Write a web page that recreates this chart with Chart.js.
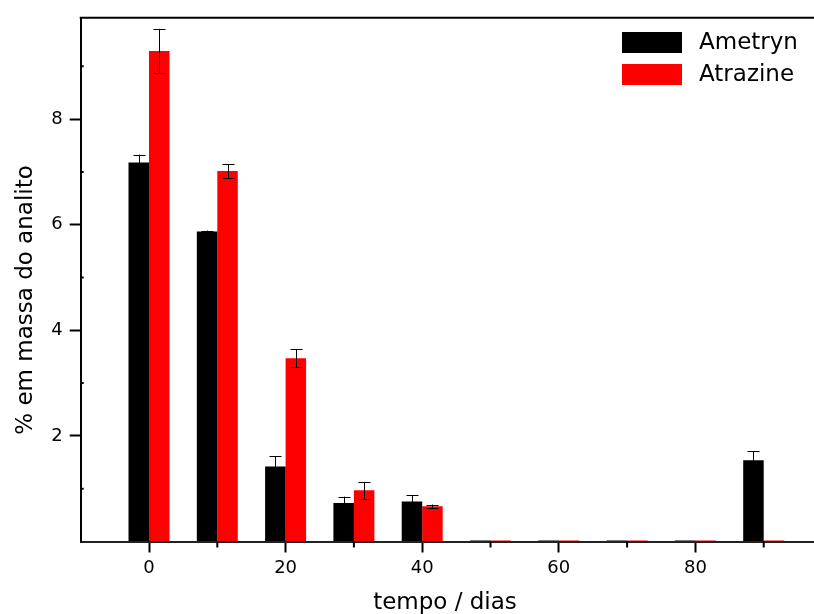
<!DOCTYPE html>
<html>
<head>
<meta charset="utf-8">
<script src="https://cdn.jsdelivr.net/npm/chart.js@4/dist/chart.umd.min.js"></script>
<style>
html, body { margin: 0; padding: 0; background: #fff; overflow: hidden; }
#wrap { width: 814px; height: 614px; overflow: hidden; }
canvas { display: block; }
</style>
</head>
<body>
<div id="wrap"><canvas id="massChart" width="837" height="614"></canvas></div>
<script>
'use strict';

// tempo (dias) e % em massa de cada analito, com desvios
var times        = [0, 10, 20, 30, 40, 50, 60, 70, 80, 90];
var ametryn      = [7.18, 5.87, 1.42, 0.73, 0.76, 0, 0, 0, 0, 1.54];
var ametrynErr   = [0.15, 0.02, 0.20, 0.12, 0.12, 0, 0, 0, 0, 0.17];
var atrazine     = [9.29, 7.02, 3.47, 0.97, 0.67, 0, 0, 0, 0, 0];
var atrazineErr  = [0.42, 0.13, 0.17, 0.16, 0.03, 0, 0, 0, 0, 0];
var xTickLabels  = [0, 20, 40, 60, 80];
var yTickLabels  = [2, 4, 6, 8];

var FONT = 'DejaVu Sans';
Chart.defaults.font.family = FONT;
Chart.defaults.color = '#000';

function points(values) {
    return times.map(function (t, i) { return { x: t, y: values[i] }; });
}

var extras = {
    id: 'extras',
    afterDatasetsDraw: function (chart) {
        // barras de erro
        var ctx = chart.ctx;
        var yScale = chart.scales.y;
        ctx.save();
        ctx.strokeStyle = '#000';
        ctx.lineWidth = 1;
        chart.data.datasets.forEach(function (ds, i) {
            var meta = chart.getDatasetMeta(i);
            meta.data.forEach(function (bar, j) {
                var e = ds.errors[j];
                if (!e) return;
                var v = ds.data[j].y;
                var top = yScale.getPixelForValue(v + e);
                var bot = yScale.getPixelForValue(v - e);
                var x = Math.round(bar.x) + 0.5;
                ctx.beginPath();
                ctx.moveTo(x, top);
                ctx.lineTo(x, bot);
                ctx.moveTo(x - 6, Math.round(top) + 0.5);
                ctx.lineTo(x + 6, Math.round(top) + 0.5);
                ctx.moveTo(x - 6, Math.round(bot) + 0.5);
                ctx.lineTo(x + 6, Math.round(bot) + 0.5);
                ctx.stroke();
            });
        });
        ctx.restore();
    },
    afterDraw: function (chart) {
        var ctx = chart.ctx;
        var area = chart.chartArea;
        var xScale = chart.scales.x;
        var yScale = chart.scales.y;
        ctx.save();

        // linha superior do quadro
        ctx.strokeStyle = '#000';
        ctx.lineWidth = 2;
        ctx.beginPath();
        ctx.moveTo(area.left - 1, area.top);
        ctx.lineTo(area.right, area.top);
        ctx.stroke();

        // ticks menores
        ctx.beginPath();
        [10, 30, 50, 70, 90].forEach(function (v) {
            var px = xScale.getPixelForValue(v);
            ctx.moveTo(px, area.bottom);
            ctx.lineTo(px, area.bottom + 6);
        });
        [1, 3, 5, 7, 9].forEach(function (v) {
            var py = yScale.getPixelForValue(v);
            ctx.moveTo(area.left, py);
            ctx.lineTo(area.left + 3, py);
        });
        ctx.stroke();

        // títulos dos eixos
        ctx.fillStyle = '#000';
        ctx.font = '23px "' + FONT + '"';
        ctx.textAlign = 'center';
        ctx.textBaseline = 'alphabetic';
        ctx.fillText('tempo / dias', 445, 609);
        ctx.save();
        ctx.translate(32, 300);
        ctx.rotate(-Math.PI / 2);
        ctx.fillText('% em massa do analito', 0, 0);
        ctx.restore();

        // legenda
        ctx.textAlign = 'left';
        ctx.textBaseline = 'middle';
        chart.data.datasets.forEach(function (ds, i) {
            var y0 = 32 + i * 32;
            ctx.fillStyle = ds.backgroundColor;
            ctx.fillRect(622, y0, 60, 21);
            ctx.fillStyle = '#000';
            ctx.fillText(ds.label, 699, y0 + 11);
        });
        ctx.restore();
    }
};

var massChart = new Chart(document.getElementById('massChart'), {
    type: 'bar',
    data: {
        datasets: [
            {
                label: 'Ametryn',
                data: points(ametryn),
                errors: ametrynErr,
                backgroundColor: '#000000',
                borderWidth: 0,
                minBarLength: 1
            },
            {
                label: 'Atrazine',
                data: points(atrazine),
                errors: atrazineErr,
                backgroundColor: '#ff0000',
                borderWidth: 0,
                minBarLength: 1
            }
        ]
    },
    options: {
        responsive: false,
        animation: false,
        devicePixelRatio: 1,
        categoryPercentage: 0.6,
        barPercentage: 1,
        layout: { padding: { top: 14, right: 1.25, left: 0, bottom: 0 } },
        plugins: {
            legend: { display: false },
            tooltip: { enabled: false }
        },
        scales: {
            x: {
                type: 'linear',
                min: -10,
                max: 100,
                offset: false,
                ticks: {
                    stepSize: 10,
                    autoSkip: false,
                    maxRotation: 0,
                    padding: 5,
                    font: { size: 18 },
                    color: '#000',
                    callback: function (v) { return xTickLabels.indexOf(v) >= 0 ? String(v) : ''; }
                },
                grid: {
                    display: true,
                    offset: false,
                    drawOnChartArea: false,
                    drawTicks: true,
                    tickLength: 11,
                    tickWidth: 2,
                    tickColor: function (c) { return xTickLabels.indexOf(c.tick.value) >= 0 ? '#000' : 'rgba(0,0,0,0)'; }
                },
                border: { display: true, color: '#222', width: 2 },
                afterFit: function (s) { s.height = 72.5; }
            },
            y: {
                min: 0,
                max: 9.92,
                ticks: {
                    stepSize: 1,
                    padding: 7,
                    font: { size: 18 },
                    color: '#000',
                    callback: function (v) { return yTickLabels.indexOf(v) >= 0 ? String(v) : ''; }
                },
                grid: {
                    display: true,
                    drawOnChartArea: false,
                    drawTicks: true,
                    tickLength: 11,
                    tickWidth: 2,
                    tickColor: function (c) { return yTickLabels.indexOf(c.tick.value) >= 0 ? '#000' : 'rgba(0,0,0,0)'; }
                },
                border: { display: true, color: '#000', width: 2 },
                afterFit: function (s) { s.width = 80.7; }
            }
        }
    },
    plugins: [extras]
});
</script>
</body>
</html>
